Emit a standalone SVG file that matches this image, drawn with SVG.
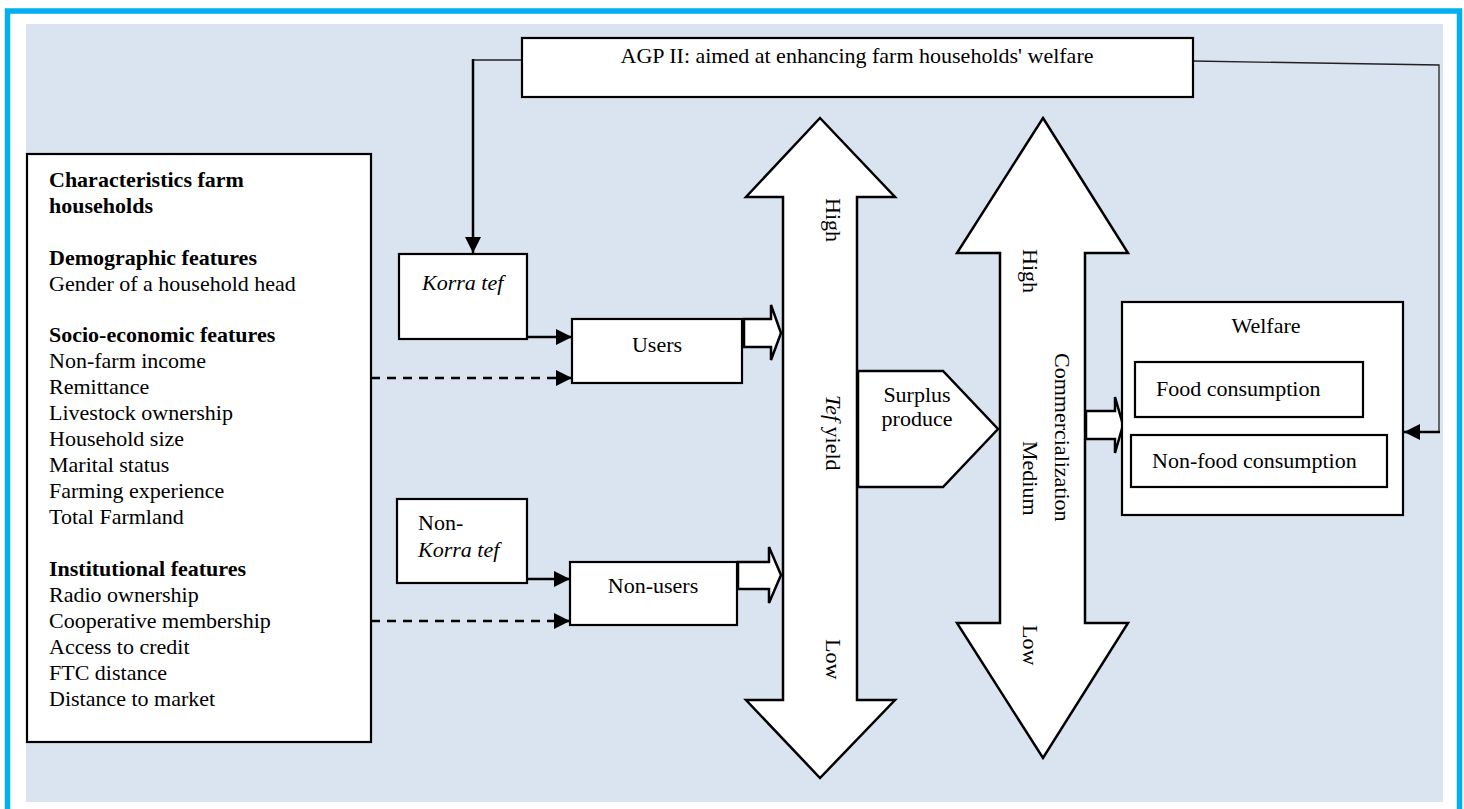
<svg xmlns="http://www.w3.org/2000/svg" width="1464" height="809" viewBox="0 0 1464 809">
<defs>
<style>
text{font-family:"Liberation Serif","Times New Roman",serif;font-size:22px;fill:#000}
.b{font-weight:bold}
.i{font-style:italic}
.box{fill:#fff;stroke:#000;stroke-width:2.2}
.blk{fill:#fff;stroke:#000;stroke-width:2.5;stroke-linejoin:miter}
.ln{fill:none;stroke:#000;stroke-width:2.5}
.thin{fill:none;stroke:#222;stroke-width:1.3}
.dash{fill:none;stroke:#000;stroke-width:2.5;stroke-dasharray:9 7}
</style>
<marker id="ah" markerWidth="16" markerHeight="16" viewBox="0 0 16 16" refX="16" refY="8" orient="auto" markerUnits="userSpaceOnUse">
<path d="M0,0 L16,8 L0,16 Z" fill="#000"/>
</marker>
</defs>
<rect x="0" y="0" width="1464" height="809" fill="#fff"/>
<rect x="7.5" y="11" width="1452" height="860" fill="none" stroke="#00B0F0" stroke-width="5.5"/>
<rect x="26" y="24" width="1417" height="778" fill="#DAE3F0"/>

<g id="connectors">
<polyline class="thin" points="522,60 473,60"/>
<line class="ln" x1="473" y1="59" x2="473" y2="253" marker-end="url(#ah)"/>
<polyline class="thin" points="1193,61 1439,65 1439,432"/>
<line class="ln" x1="1440" y1="432" x2="1404" y2="432" marker-end="url(#ah)"/>
<line class="ln" x1="527" y1="337" x2="572" y2="337" marker-end="url(#ah)"/>
<line class="dash" x1="371" y1="378" x2="572" y2="378" marker-end="url(#ah)"/>
<line class="ln" x1="527" y1="579" x2="570" y2="579" marker-end="url(#ah)"/>
<line class="dash" x1="371" y1="621" x2="570" y2="621" marker-end="url(#ah)"/>
<polygon class="blk" stroke-width="2" points="744,319 771,319 771,305 781,333 771,360 771,347 744,347"/>
<polygon class="blk" stroke-width="2" points="738,562 769,562 769,547 781,575 769,603 769,589 738,589"/>
<polygon class="blk" stroke-width="2" points="1086,411 1115,411 1115,397 1123,425 1115,453 1115,439 1086,439"/>
</g>

<g id="agp">
<rect class="box" x="522" y="38" width="671" height="59"/>
<text x="857" y="63" text-anchor="middle">AGP II: aimed at enhancing farm households' welfare</text>
</g>

<g id="characteristics">
<rect class="box" x="27" y="154" width="344" height="588"/>
<text class="b" x="49" y="187">Characteristics farm</text>
<text class="b" x="49" y="213">households</text>
<text class="b" x="49" y="265">Demographic features</text>
<text x="49" y="291">Gender of a household head</text>
<text class="b" x="49" y="342">Socio-economic features</text>
<text x="49" y="368">Non-farm income</text>
<text x="49" y="394">Remittance</text>
<text x="49" y="420">Livestock ownership</text>
<text x="49" y="446">Household size</text>
<text x="49" y="472">Marital status</text>
<text x="49" y="498">Farming experience</text>
<text x="49" y="524">Total Farmland</text>
<text class="b" x="49" y="576">Institutional features</text>
<text x="49" y="602">Radio ownership</text>
<text x="49" y="628">Cooperative membership</text>
<text x="49" y="654">Access to credit</text>
<text x="49" y="680">FTC distance</text>
<text x="49" y="706">Distance to market</text>
</g>

<g id="korra">
<rect class="box" x="399" y="254" width="128" height="85"/>
<text class="i" x="422" y="290">Korra tef</text>
</g>

<g id="nonkorra">
<rect class="box" x="397" y="499" width="130" height="84"/>
<text x="418" y="530">Non-</text>
<text class="i" x="418" y="557">Korra tef</text>
</g>

<g id="users">
<rect class="box" x="572" y="319" width="170" height="64"/>
<text x="657" y="352" text-anchor="middle">Users</text>
</g>

<g id="nonusers">
<rect class="box" x="570" y="562" width="167" height="63"/>
<text x="653" y="593" text-anchor="middle">Non-users</text>
</g>

<g id="tefyield">
<polygon class="blk" points="820,118 895,197 857,197 857,700 895,700 820,778 746,700 783,700 783,197 746,197"/>
<text transform="translate(826,198) rotate(90)">High</text>
<text transform="translate(826,395) rotate(90)"><tspan class="i">Tef</tspan> yield</text>
<text transform="translate(826,639) rotate(90)">Low</text>
</g>

<g id="surplus">
<polygon class="blk" points="858,371 943,371 998,429 943,487 858,487"/>
<text x="917" y="402" text-anchor="middle">Surplus</text>
<text x="917" y="426" text-anchor="middle">produce</text>
</g>

<g id="commercialization">
<polygon class="blk" points="1043,118 1128,253 1085,253 1085,623 1128,623 1043,758 957,623 1000,623 1000,253 957,253"/>
<text transform="translate(1023,249) rotate(90)">High</text>
<text transform="translate(1055,353) rotate(90)">Commercialization</text>
<text transform="translate(1023,441) rotate(90)">Medium</text>
<text transform="translate(1023,625) rotate(90)">Low</text>
</g>

<g id="welfare">
<rect class="box" x="1122" y="302" width="281" height="213"/>
<text x="1266" y="333" text-anchor="middle">Welfare</text>
<rect class="box" x="1135" y="362" width="228" height="55"/>
<text x="1156" y="396">Food consumption</text>
<rect class="box" x="1131" y="435" width="256" height="52"/>
<text x="1152" y="468">Non-food consumption</text>
</g>
</svg>
